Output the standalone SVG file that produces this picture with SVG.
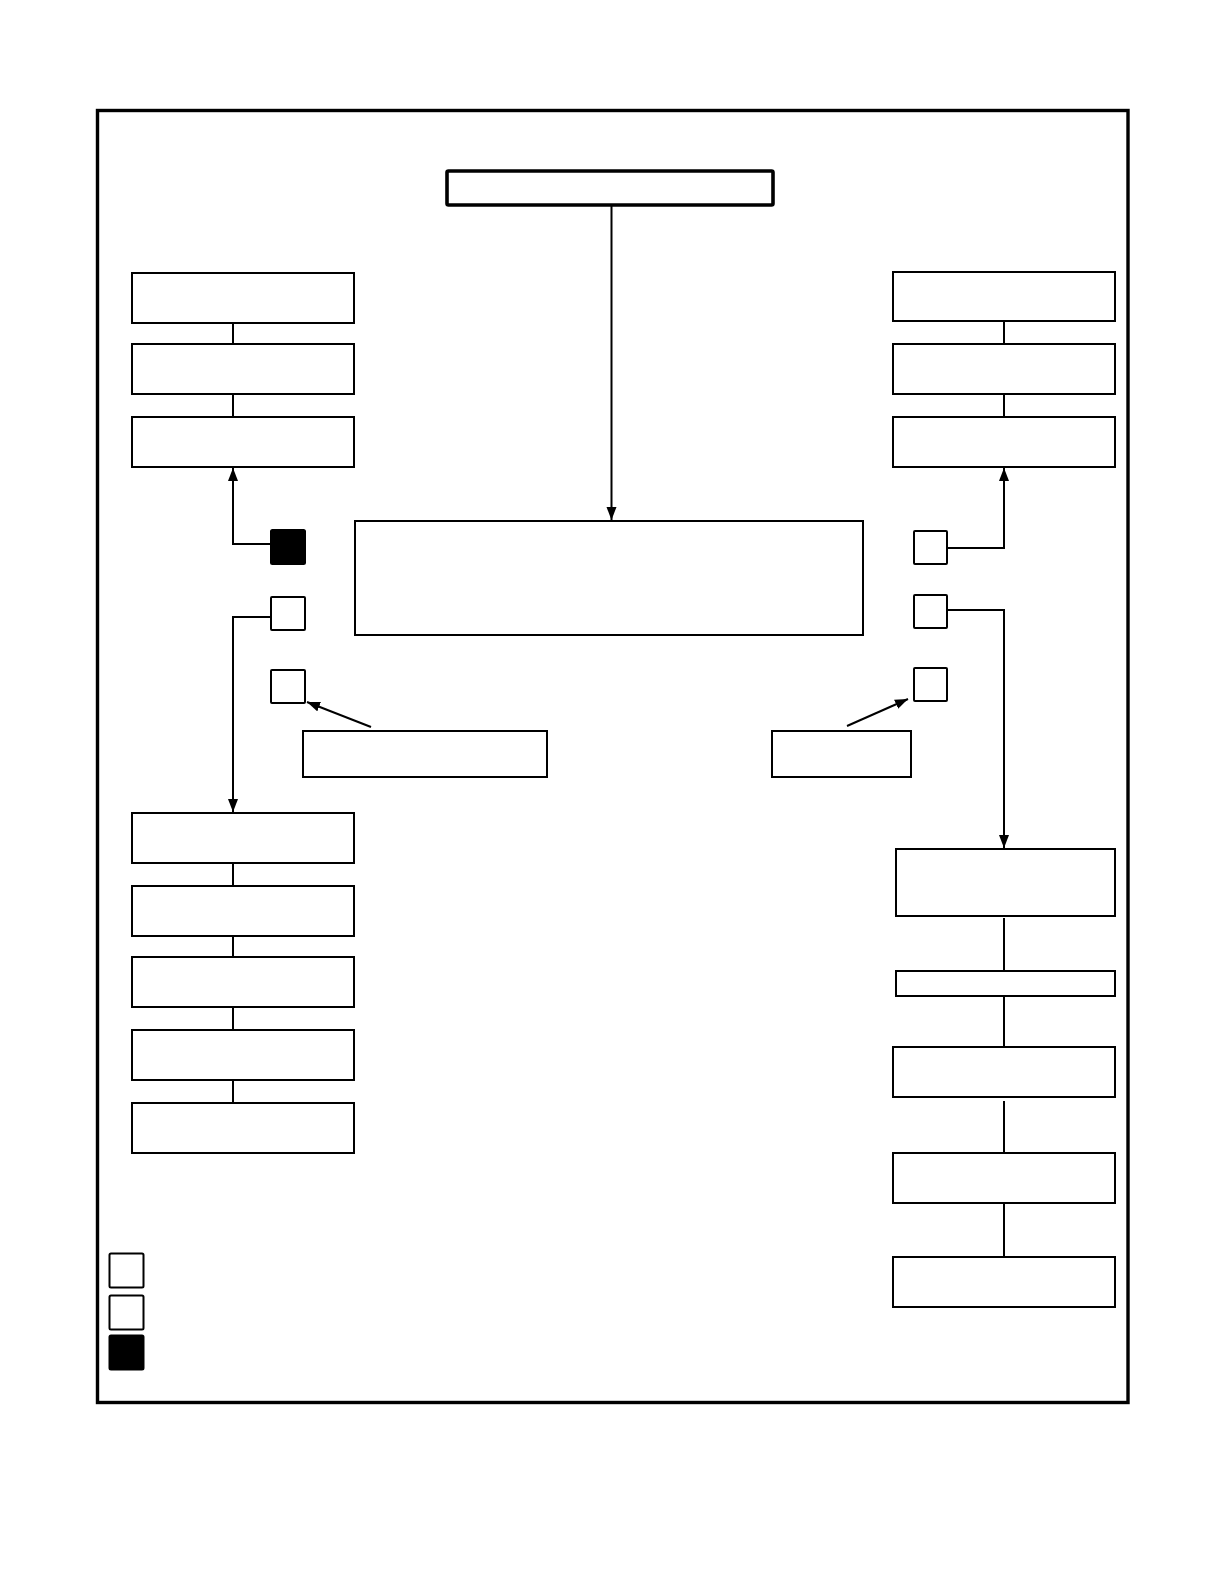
<svg xmlns="http://www.w3.org/2000/svg" width="1225" height="1585" viewBox="0 0 1225 1585">
<style>
.box{fill:#fff;stroke:#000;stroke-width:2}
.thick{fill:#fff;stroke:#000;stroke-width:3.6}
.sq{fill:#fff;stroke:#000;stroke-width:2}
.blk{fill:#000;stroke:#000;stroke-width:2}
.ln{fill:none;stroke:#000;stroke-width:2}
.ar{fill:none;stroke:#000;stroke-width:2;marker-end:url(#ah)}
</style>
<defs>
<marker id="ah" markerUnits="userSpaceOnUse" markerWidth="14" markerHeight="11" refX="13" refY="5" orient="auto" viewBox="0 0 14 11">
<path d="M0,0 L13,5 L0,10 z" fill="#000"/>
</marker>
</defs>
<rect width="1225" height="1585" fill="#fff"/>
<rect id="frame" x="97.5" y="110.5" width="1030.5" height="1292" fill="none" stroke="#000" stroke-width="3.4"/>
<g id="connectors">
<path class="ar" d="M611.5,206 V520"/>
<path class="ln" d="M233,323 V344 M233,394 V417"/>
<path class="ln" d="M1004,321 V344 M1004,394 V417"/>
<path class="ar" d="M271,544 H233 V468"/>
<path class="ar" d="M947,548 H1004 V468"/>
<path class="ar" d="M271,617 H233 V812"/>
<path class="ar" d="M947,610 H1004 V848"/>
<path class="ar" d="M371,727 L307,702"/>
<path class="ar" d="M847,726 L908,699"/>
<path class="ln" d="M233,863 V886 M233,936 V957 M233,1007 V1030 M233,1080 V1103"/>
<path class="ln" d="M1004,918 V971 M1004,996 V1047 M1004,1101 V1153 M1004,1204 V1257"/>
</g>
<g id="top"><rect class="thick" x="447" y="171" width="326" height="34" rx="1.5"/></g>
<g id="center"><rect class="box" x="355" y="521" width="508" height="114"/></g>
<g id="left-top-1"><rect class="box" x="132" y="273" width="222" height="50"/></g>
<g id="left-top-2"><rect class="box" x="132" y="344" width="222" height="50"/></g>
<g id="left-top-3"><rect class="box" x="132" y="417" width="222" height="50"/></g>
<g id="right-top-1"><rect class="box" x="893" y="272" width="222" height="49"/></g>
<g id="right-top-2"><rect class="box" x="893" y="344" width="222" height="50"/></g>
<g id="right-top-3"><rect class="box" x="893" y="417" width="222" height="50"/></g>
<g id="left-sq-1"><rect class="blk" x="271" y="530" width="34" height="34" rx="1.5"/></g>
<g id="left-sq-2"><rect class="sq" x="271" y="597" width="34" height="33" rx="1"/></g>
<g id="left-sq-3"><rect class="sq" x="271" y="670" width="34" height="33" rx="1"/></g>
<g id="right-sq-1"><rect class="sq" x="914" y="531" width="33" height="33" rx="1"/></g>
<g id="right-sq-2"><rect class="sq" x="914" y="595" width="33" height="33" rx="1"/></g>
<g id="right-sq-3"><rect class="sq" x="914" y="668" width="33" height="33" rx="1"/></g>
<g id="label-left"><rect class="box" x="303" y="731" width="244" height="46"/></g>
<g id="label-right"><rect class="box" x="772" y="731" width="139" height="46"/></g>
<g id="left-bot-1"><rect class="box" x="132" y="813" width="222" height="50"/></g>
<g id="left-bot-2"><rect class="box" x="132" y="886" width="222" height="50"/></g>
<g id="left-bot-3"><rect class="box" x="132" y="957" width="222" height="50"/></g>
<g id="left-bot-4"><rect class="box" x="132" y="1030" width="222" height="50"/></g>
<g id="left-bot-5"><rect class="box" x="132" y="1103" width="222" height="50"/></g>
<g id="right-bot-1"><rect class="box" x="896" y="849" width="219" height="67"/></g>
<g id="right-bot-2"><rect class="box" x="896" y="971" width="219" height="25"/></g>
<g id="right-bot-3"><rect class="box" x="893" y="1047" width="222" height="50"/></g>
<g id="right-bot-4"><rect class="box" x="893" y="1153" width="222" height="50"/></g>
<g id="right-bot-5"><rect class="box" x="893" y="1257" width="222" height="50"/></g>
<g id="legend-1"><rect class="sq" x="109.5" y="1253.5" width="34" height="34" rx="1.5"/></g>
<g id="legend-2"><rect class="sq" x="109.5" y="1295.5" width="34" height="34" rx="1.5"/></g>
<g id="legend-3"><rect class="blk" x="109.5" y="1335.5" width="34" height="34" rx="1.5"/></g>
</svg>
